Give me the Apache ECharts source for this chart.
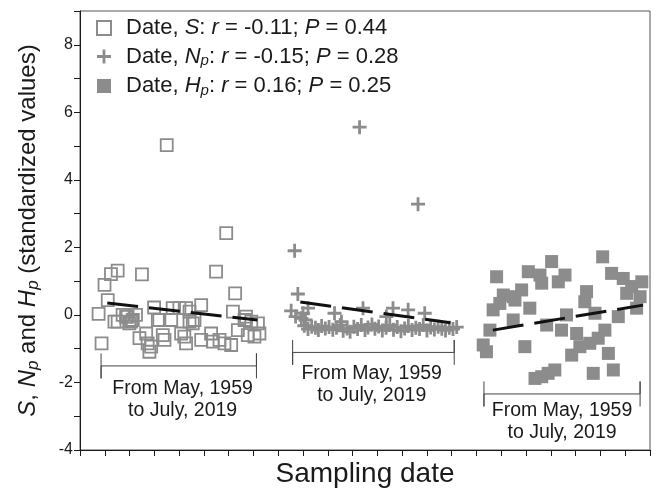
<!DOCTYPE html>
<html>
<head>
<meta charset="utf-8">
<script src="https://cdn.jsdelivr.net/npm/echarts@6/dist/echarts.min.js"></script>
<style>
html, body { margin: 0; padding: 0; background: #fff; }
#main { width: 657px; height: 496px; }
</style>
</head>
<body>
<div id="main"></div>
<script>
var FONT = 'Liberation Sans, Arial, sans-serif';

// series names and stats shown in the legend
var seriesNames = ['S', 'Np', 'Hp'];
var legendR = ['-0.11', '-0.15', '0.16'];
var legendP = ['0.44', '0.28', '0.25'];

// standardized values, x = position along the sampling date axis (tick units)
var sPoints = [
    [0.75, 0.03], [0.87, -0.84], [0.99, 0.89], [1.12, 0.44], [1.25, 1.21], [1.52, 1.31],
    [1.39, -0.2], [1.52, -0.2], [1.72, 0.0], [1.86, -0.05], [1.92, -0.05], [1.99, -0.25],
    [2.06, -0.2], [2.13, -0.15], [2.26, 0.0], [2.4, -0.69], [2.5, 1.2], [2.67, -0.55],
    [2.73, -0.84], [2.8, -1.09], [2.87, -0.94], [2.99, 0.22], [3.14, -0.15], [3.2, -0.15],
    [3.34, -0.6], [3.41, -0.74], [3.5, 5.03], [3.68, -0.15], [3.74, 0.2], [4.01, 0.2],
    [4.08, -0.55], [4.21, -0.64], [4.28, -0.84], [4.28, 0.2], [4.42, 0.1], [4.42, -0.2],
    [4.55, -0.25], [4.62, -0.15], [4.89, 0.29], [4.89, -0.74], [5.29, -0.55], [5.36, -0.79],
    [5.49, 1.28], [5.63, -0.74], [5.83, -0.84], [5.9, 2.42], [6.1, -0.89], [6.17, 0.1],
    [6.26, 0.64], [6.37, -0.45], [6.64, -0.15], [6.7, -0.05], [6.77, -0.6], [6.91, -0.2],
    [7.04, -0.64], [7.18, -0.25], [7.24, -0.55]
];
var npPoints = [
    [8.66, 1.9], [8.79, 0.62], [11.28, 5.56], [13.64, 3.28],
    [8.52, 0.12], [9.0, 0.05], [9.2, 0.2], [8.93, -0.1], [10.27, 0.05], [11.42, 0.2],
    [12.63, 0.2], [13.24, 0.15], [13.91, 0.05], [12.36, -0.05], [10.55, -0.2], [8.7, -0.05],
    [9.1, -0.15],
    [9.05, -0.32], [9.2, -0.42], [9.35, -0.35], [9.5, -0.38], [9.62, -0.45], [9.75, -0.33],
    [9.9, -0.4], [10.05, -0.36], [10.2, -0.44], [10.35, -0.38], [10.5, -0.3], [10.62, -0.47],
    [10.78, -0.4], [10.9, -0.5], [11.05, -0.35], [11.2, -0.42], [11.35, -0.3], [11.5, -0.45],
    [11.62, -0.37], [11.78, -0.28], [11.9, -0.41], [12.05, -0.34], [12.2, -0.46], [12.35, -0.38],
    [12.5, -0.3], [12.65, -0.44], [12.8, -0.36], [12.95, -0.48], [13.1, -0.4], [13.25, -0.33],
    [13.4, -0.45], [13.55, -0.38], [13.7, -0.42], [13.85, -0.3], [14.0, -0.46], [14.15, -0.37],
    [14.3, -0.43], [14.45, -0.35], [14.6, -0.41], [14.75, -0.46], [14.9, -0.38], [15.05, -0.42],
    [15.2, -0.36]
];
var hpPoints = [
    [16.27, -0.89], [16.4, -1.09], [16.54, -0.45], [16.67, 0.15], [16.81, 1.13], [16.94, 0.34],
    [17.08, 0.59], [17.48, 0.54], [17.48, -0.15], [17.55, 0.44], [17.82, 0.74], [17.95, -0.94],
    [18.09, 1.28], [18.15, 0.2], [18.36, -1.88], [18.56, 1.18], [18.63, 0.94], [18.63, -1.83],
    [18.83, -0.3], [18.89, -1.73], [19.03, 1.58], [19.16, -1.63], [19.3, 0.98], [19.43, -0.45],
    [19.57, 1.18], [19.63, 0.0], [19.84, -1.19], [20.04, -0.55], [20.17, -0.94], [20.37, 0.39],
    [20.44, 0.69], [20.57, -0.84], [20.71, -1.73], [20.78, 0.05], [20.91, -0.69], [21.09, 1.72],
    [21.18, -0.45], [21.32, -1.14], [21.45, 1.23], [21.52, -1.63], [21.72, -0.05], [21.92, 1.08],
    [22.06, 0.64], [22.26, 0.84], [22.46, 0.2], [22.6, 0.54], [22.67, 0.98]
];

// fitted trend lines (start, end)
var sTrend = [[1.1, 0.35], [7.16, -0.15]];
var npTrend = [[8.89, 0.38], [14.95, -0.23]];
var hpTrend = [[16.66, -0.45], [22.72, 0.29]];

// period brackets under each group
var periodRanges = [[0.85, 7.12], [8.58, 15.1], [16.3, 22.6]];
var periodLevels = [-1.51, -1.11, -2.34];
var periodLabelPos = [[4.14, -2.52], [11.77, -2.05], [19.45, -3.16]];
var periodText = 'From May, 1959\nto July, 2019';

var GRAY = '#8c8c8c';
var INK = '#1a1a1a';
var plusPath = 'path://M4,0H6V4H10V6H6V10H4V6H0V4H4Z';

function legendLabel(name) {
    var i = seriesNames.indexOf(name);
    var v = name == 'S' ? '{i|S}' : '{i|' + name.charAt(0) + '}{s|p}';
    return '{f|Date, }' + v + '{n|: }{i|r}{n| = ' + legendR[i] + '; }{i|P}{n| = ' + legendP[i] + '}';
}

function bracketData(k) {
    var a = periodRanges[k][0], b = periodRanges[k][1], y = periodLevels[k], h = 0.37;
    return [[a, y + h], [a, y - h], [a, y], [b, y], [b, y + h], [b, y - h]];
}

var chart = echarts.init(document.getElementById('main'));
var series = [{
    name: 'S',
    type: 'scatter',
    symbol: 'rect',
    symbolSize: 12,
    itemStyle: { color: 'rgba(255,255,255,0)', borderColor: GRAY, borderWidth: 1.8, opacity: 1 },
    data: sPoints
}, {
    name: 'Np',
    type: 'scatter',
    symbol: plusPath,
    symbolSize: 14,
    itemStyle: { color: GRAY, opacity: 1 },
    data: npPoints
}, {
    name: 'Hp',
    type: 'scatter',
    symbol: 'rect',
    symbolSize: 13,
    itemStyle: { color: GRAY, opacity: 1 },
    data: hpPoints
}];

[sTrend, npTrend, hpTrend].forEach(function(t) {
    series.push({
        type: 'line',
        data: t,
        symbol: 'none',
        z: 5,
        lineStyle: { color: '#111', width: 3, type: [31, 11] }
    });
});

periodRanges.forEach(function(r, k) {
    series.push({
        type: 'line',
        data: bracketData(k),
        symbol: 'none',
        lineStyle: { color: '#444', width: 1 }
    });
});

series.push({
    type: 'scatter',
    data: periodLabelPos,
    symbolSize: 1,
    itemStyle: { color: 'rgba(0,0,0,0)', opacity: 1 },
    label: {
        show: true,
        position: 'inside',
        formatter: periodText,
        fontFamily: FONT,
        fontSize: 19.5,
        lineHeight: 22,
        color: INK,
        textBorderWidth: 0
    }
});

var option = {
    animation: false,
    textStyle: { fontFamily: FONT },
    grid: {
        left: 80, right: 7, top: 11, bottom: 46,
        show: true, borderColor: '#555', borderWidth: 1,
        outerBoundsMode: 'none'
    },
    legend: {
        data: seriesNames,
        orient: 'vertical',
        left: 96,
        top: 17,
        padding: 0,
        itemWidth: 14,
        itemHeight: 14,
        itemGap: 6.5,
        selectedMode: false,
        formatter: legendLabel,
        textStyle: {
            fontFamily: FONT,
            fontSize: 22,
            color: INK,
            rich: {
                f: { fontFamily: FONT, fontSize: 22, lineHeight: 24, color: INK, padding: [0, 0, 0, 10] },
                n: { fontFamily: FONT, fontSize: 22, lineHeight: 24, color: INK },
                i: { fontFamily: FONT, fontSize: 22, lineHeight: 24, color: INK, fontStyle: 'italic' },
                s: { fontFamily: FONT, fontSize: 15, lineHeight: 14, color: INK, fontStyle: 'italic', verticalAlign: 'bottom' }
            }
        }
    },
    xAxis: {
        type: 'value',
        min: 0,
        max: 23,
        interval: 1,
        name: 'Sampling date',
        nameLocation: 'middle',
        nameGap: 10,
        nameTextStyle: { fontFamily: FONT, fontSize: 28, color: INK },
        axisLine: { show: true, onZero: false, lineStyle: { color: INK, width: 1 } },
        axisTick: { show: true, length: 6, lineStyle: { color: INK } },
        axisLabel: { show: false },
        splitLine: { show: false }
    },
    yAxis: {
        type: 'value',
        min: -4,
        max: 9,
        interval: 1,
        name: '{i|S}{n|, }{i|N}{s|p}{n| and }{i|H}{s|p}{n| (standardized values)}',
        nameLocation: 'middle',
        nameRotate: 90,
        nameGap: 38,
        nameTextStyle: {
            fontFamily: FONT,
            fontSize: 24,
            color: INK,
            rich: {
                n: { fontFamily: FONT, fontSize: 24, lineHeight: 28, color: INK },
                i: { fontFamily: FONT, fontSize: 24, lineHeight: 28, color: INK, fontStyle: 'italic' },
                s: { fontFamily: FONT, fontSize: 17, lineHeight: 17, color: INK, fontStyle: 'italic', verticalAlign: 'bottom' }
            }
        },
        axisLine: { show: true, onZero: false, lineStyle: { color: INK, width: 1 } },
        axisTick: { show: true, length: 6, lineStyle: { color: INK } },
        axisLabel: {
            fontFamily: FONT,
            fontSize: 16,
            color: INK,
            margin: 7,
            formatter: function(v) { return v % 2 === 0 ? String(v) : ''; }
        },
        splitLine: { show: false }
    },
    series: series
};
chart.setOption(option);
</script>
</body>
</html>
